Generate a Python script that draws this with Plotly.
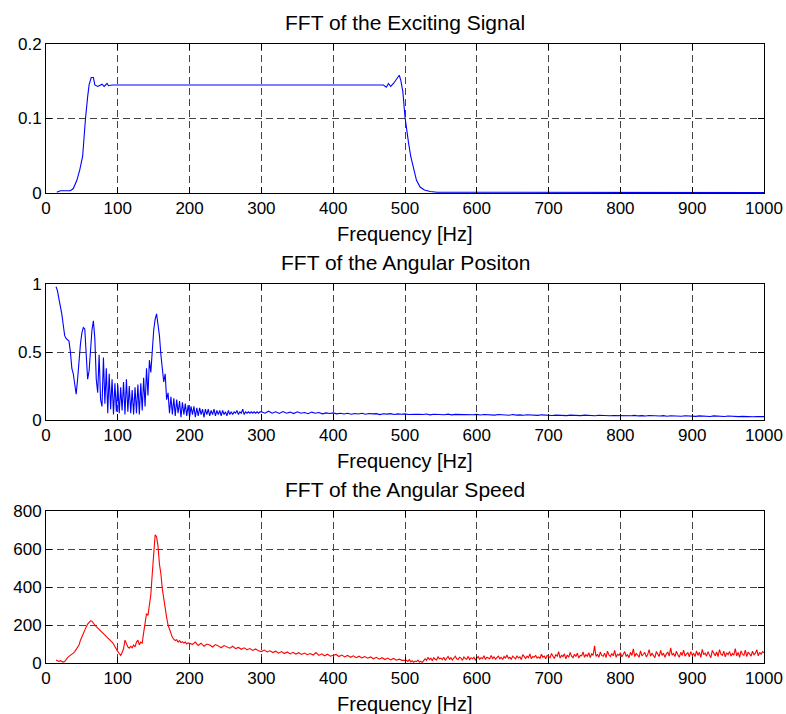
import numpy as np
import plotly.graph_objects as go

# ---------------- data ----------------
# Panel 1: FFT of the exciting signal
f1 = [15, 20, 34, 38, 43, 47, 51, 53, 55, 58, 60, 63, 66, 68, 72, 74, 78, 81, 85, 87, 92,
      470, 474, 477, 480, 484, 488, 492, 494, 497, 500, 502, 505, 508, 512, 516, 521, 527,
      535, 545, 600, 700, 800, 900, 1000]
a1 = [0.001, 0.003, 0.003, 0.006, 0.017, 0.031, 0.049, 0.076, 0.100, 0.129, 0.145, 0.155,
      0.155, 0.145, 0.143, 0.144, 0.146, 0.143, 0.147, 0.144, 0.145,
      0.145, 0.142, 0.147, 0.143, 0.147, 0.152, 0.158, 0.152, 0.136, 0.102, 0.085, 0.067,
      0.049, 0.031, 0.017, 0.008, 0.004, 0.002, 0.001, 0.001, 0.001, 0.001, 0.0005, 0.0005]

# Panel 2: FFT of the angular position (2 Hz bins from 14 Hz, then 5 Hz bins from 300 Hz)
pos_low_start, pos_low_step = 14, 2
pos_low = [0.98, 0.95, 0.89, 0.84, 0.78, 0.70, 0.62, 0.60, 0.59, 0.58,
           0.50, 0.38, 0.34, 0.25, 0.19, 0.30, 0.44, 0.56, 0.64, 0.68,
           0.67, 0.52, 0.30, 0.36, 0.55, 0.66, 0.73, 0.60, 0.30, 0.20,
           0.48, 0.15, 0.10, 0.46, 0.12, 0.38, 0.05, 0.34, 0.08, 0.30,
           0.04, 0.27, 0.06, 0.26, 0.05, 0.24, 0.07, 0.28, 0.04, 0.30,
           0.06, 0.25, 0.05, 0.22, 0.04, 0.24, 0.05, 0.26, 0.04, 0.27,
           0.07, 0.31, 0.10, 0.38, 0.18, 0.44, 0.35, 0.55, 0.66, 0.74,
           0.78, 0.70, 0.62, 0.48, 0.40, 0.28, 0.34, 0.15, 0.20, 0.05,
           0.17, 0.04, 0.16, 0.03, 0.15, 0.05, 0.14, 0.02, 0.13, 0.04,
           0.12, 0.03, 0.11, 0.02, 0.10, 0.04, 0.10, 0.02, 0.09, 0.03,
           0.09, 0.04, 0.08, 0.02, 0.08, 0.04, 0.08, 0.03, 0.07, 0.04,
           0.08, 0.03, 0.07, 0.04, 0.07, 0.03, 0.07, 0.04, 0.06, 0.03,
           0.07, 0.04, 0.06, 0.04, 0.06, 0.05, 0.07, 0.04, 0.06, 0.05,
           0.08, 0.04, 0.06, 0.05, 0.06, 0.05, 0.06, 0.05, 0.06, 0.05,
           0.06, 0.05, 0.06]
pos_high_start, pos_high_step = 300, 5
pos_high = [0.06, 0.05, 0.065, 0.05, 0.06, 0.048, 0.062, 0.05, 0.058, 0.047,
            0.06, 0.05, 0.055, 0.046, 0.058, 0.05, 0.055, 0.045, 0.052, 0.048,
            0.052, 0.045, 0.05, 0.044, 0.05, 0.042, 0.048, 0.044, 0.05, 0.042,
            0.048, 0.045, 0.047, 0.04, 0.046, 0.043, 0.047, 0.04, 0.045, 0.042,
            0.045, 0.04, 0.043, 0.041, 0.042, 0.04, 0.044, 0.038, 0.042, 0.04,
            0.041, 0.039, 0.043, 0.038, 0.041, 0.04, 0.042, 0.037, 0.041, 0.039,
            0.041, 0.037, 0.04, 0.038, 0.041, 0.036, 0.04, 0.037, 0.039, 0.035,
            0.04, 0.036, 0.038, 0.035, 0.039, 0.036, 0.037, 0.034, 0.038, 0.035,
            0.037, 0.033, 0.036, 0.034, 0.037, 0.032, 0.036, 0.033, 0.035, 0.032,
            0.036, 0.033, 0.034, 0.031, 0.035, 0.032, 0.034, 0.031, 0.033, 0.032,
            0.034, 0.03, 0.033, 0.031, 0.034, 0.03, 0.032, 0.029, 0.033, 0.03,
            0.031, 0.029, 0.032, 0.028, 0.031, 0.029, 0.03, 0.028, 0.031, 0.028,
            0.03, 0.027, 0.03, 0.028, 0.029, 0.026, 0.03, 0.027, 0.028, 0.026,
            0.029, 0.026, 0.028, 0.025, 0.027, 0.025, 0.027, 0.024, 0.026, 0.025,
            0.025]

# Panel 3: FFT of the angular speed
spd_low_start, spd_low_step = 14, 2      # 14 .. 200 Hz
spd_low = [16, 10, 8, 12, 6, 5, 8, 20, 28, 35,
           40, 45, 52, 60, 70, 80, 95, 120, 140, 158,
           175, 190, 205, 215, 222, 220, 208, 200, 192, 185,
           178, 170, 162, 155, 148, 140, 132, 125, 118, 110,
           100, 85, 70, 60, 50, 40, 55, 75, 120, 100,
           85, 78, 88, 80, 95, 85, 110, 120, 95, 110,
           105, 160, 200, 260, 250, 300, 360, 470, 600, 675,
           665, 615, 520, 470, 390, 330, 280, 240, 200, 175,
           150, 135, 125, 118, 122, 110, 118, 108, 112, 105,
           110, 100, 106, 102]
spd_mid_start, spd_mid_step = 204, 4     # 204 .. 500 Hz
spd_mid = [98, 110, 92, 104, 88, 100, 95, 84, 97, 90, 80, 92, 85, 78, 88, 76, 82, 72, 80, 70, 76, 66, 74, 64, 60,
           68, 58, 64, 55, 62, 52, 60, 50, 58, 48, 56, 47, 54, 45, 52, 44, 50, 42, 55, 40, 48, 38, 46, 36, 42,
           45, 34, 42, 32, 40, 30, 38, 28, 36, 27, 34, 25, 32, 22, 30, 20, 28, 18, 26, 16, 24, 15, 20, 14, 16]
spd_high_start, spd_high_step = 502, 2   # 502 .. 1000 Hz
spd_high = [14, 8, 18, 6, 12, 4, 10, 7, 15, 5, 9, 3, 12, 22, 14, 30, 18, 26, 12, 28, 20, 16, 32, 22, 26,
            18, 30, 14, 25, 34, 20, 28, 16, 24, 36, 22, 18, 30, 26, 14, 32, 24, 20, 35, 18, 28, 22, 30, 16, 26,
            34, 20, 28, 24, 38, 18, 30, 26, 22, 40, 24, 32, 20, 28, 36, 22, 30, 18, 34, 26, 42, 24, 30, 20, 36,
            28, 22, 38, 26, 32, 18, 44, 30, 24, 36, 28, 48, 22, 34, 30, 40, 26, 32, 24, 46, 30, 36, 22, 40, 34,
            28, 50, 32, 24, 44, 36, 60, 26, 40, 34, 48, 22, 42, 30, 56, 36, 28, 46, 34, 52, 26, 40, 38, 58, 30,
            44, 36, 54, 28, 48, 40, 90, 34, 46, 30, 58, 40, 36, 52, 28, 62, 42, 34, 50, 38, 66, 30, 46, 40, 54,
            32, 48, 60, 36, 44, 28, 56, 40, 74, 34, 50, 42, 30, 64, 38, 46, 56, 32, 44, 70, 36, 52, 40, 28, 60,
            46, 34, 66, 40, 52, 30, 48, 58, 36, 80, 42, 50, 34, 62, 44, 30, 56, 40, 68, 36, 48, 54, 32, 60, 42,
            50, 34, 64, 40, 56, 30, 72, 44, 52, 36, 60, 42, 28, 66, 48, 38, 58, 34, 70, 46, 40, 62, 32, 54, 44,
            60, 36, 50, 42, 76, 38, 56, 30, 64, 46, 40, 68, 34, 58, 48, 36, 62, 44, 52, 70, 38, 56, 46, 60, 54]

titles = ["FFT of the Exciting Signal", "FFT of the Angular Positon", "FFT of the Angular Speed"]
xlabel = "Frequency [Hz]"
x_ticks = [0, 100, 200, 300, 400, 500, 600, 700, 800, 900, 1000]
y_ticks = [[0, 0.1, 0.2], [0, 0.5, 1], [0, 200, 400, 600, 800]]
y_ticktext = [["0", "0.1", "0.2"], ["0", "0.5", "1"], ["0", "200", "400", "600", "800"]]
y_ranges = [[0, 0.2], [0, 1], [0, 800]]

# ---------------- build ----------------
def grid(start, step, vals):
    return [start + step * i for i in range(len(vals))]

f2 = grid(pos_low_start, pos_low_step, pos_low) + grid(pos_high_start, pos_high_step, pos_high)
a2 = pos_low + pos_high
f3 = (grid(spd_low_start, spd_low_step, spd_low) + grid(spd_mid_start, spd_mid_step, spd_mid)
      + grid(spd_high_start, spd_high_step, spd_high))
a3 = spd_low + spd_mid + spd_high

W, H = 786, 714
xl, xr = 46, 764
panels_px = [(44, 193), (284, 420), (511, 663)]

FONT = "Liberation Sans, Arial, sans-serif"

fig = go.Figure()
series = [(f1, a1, "#0000FF"), (f2, a2, "#0000FF"), (f3, a3, "#FF0000")]
for i, (xx, yy, col) in enumerate(series):
    sfx = "" if i == 0 else str(i + 1)
    fig.add_trace(go.Scatter(x=xx, y=yy, mode="lines", line=dict(color=col, width=1.1),
                             xaxis="x" + sfx, yaxis="y" + sfx, showlegend=False,
                             hoverinfo="skip"))

layout = dict(width=W, height=H, margin=dict(l=0, r=0, t=0, b=0, pad=0), autosize=False,
              template="none",
              paper_bgcolor="white", plot_bgcolor="white",
              font=dict(family=FONT, color="black", size=17), showlegend=False)
annotations = []
for i, (top, bot) in enumerate(panels_px):
    sfx = "" if i == 0 else str(i + 1)
    ydom = [1 - bot / H, 1 - top / H]
    layout["xaxis" + sfx] = dict(
        domain=[xl / W, xr / W], anchor="y" + sfx, range=[0, 1000], automargin=False,
        tickvals=x_ticks, ticktext=[str(v) for v in x_ticks],
        ticks="inside", ticklen=6, tickcolor="black", tickwidth=1,
        showline=True, linecolor="black", linewidth=1, mirror="ticks",
        showgrid=True, gridcolor="#444", griddash="7px,4px", gridwidth=1,
        zeroline=False, tickfont=dict(size=17, family=FONT, color="black"),
        fixedrange=True)
    layout["yaxis" + sfx] = dict(
        domain=ydom, anchor="x" + sfx, range=y_ranges[i], automargin=False,
        tickvals=y_ticks[i], ticktext=y_ticktext[i],
        ticks="inside", ticklen=6, tickcolor="black", tickwidth=1,
        showline=True, linecolor="black", linewidth=1, mirror="ticks",
        showgrid=True, gridcolor="#444", griddash="7px,4px", gridwidth=1,
        zeroline=False, tickfont=dict(size=17, family=FONT, color="black"),
        fixedrange=True)
    cx = (xl + xr) / 2 / W
    annotations.append(dict(text=titles[i], x=cx, y=1 - (top - 22) / H, xref="paper", yref="paper",
                            xanchor="center", yanchor="middle", showarrow=False,
                            font=dict(size=21, family=FONT, color="black")))
    annotations.append(dict(text=xlabel, x=cx, y=1 - (bot + 41) / H, xref="paper", yref="paper",
                            xanchor="center", yanchor="middle", showarrow=False,
                            font=dict(size=20, family=FONT, color="black")))
layout["annotations"] = annotations
fig.update_layout(**layout)
fig.write_html("out.html", config={"displayModeBar": False},
               post_script="document.body.style.margin='0';")
